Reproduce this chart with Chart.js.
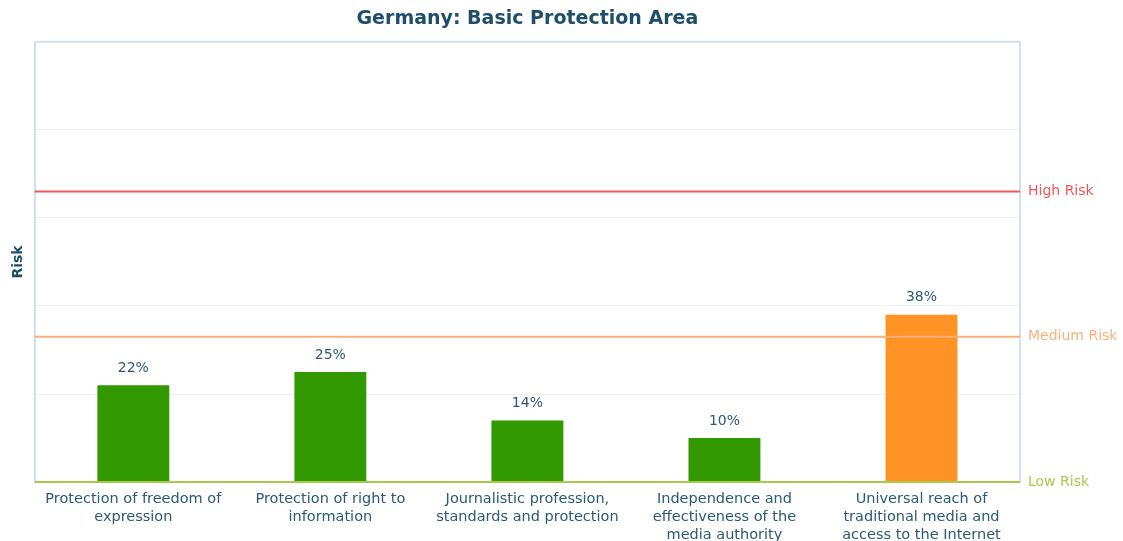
<!DOCTYPE html>
<html>
<head>
<meta charset="utf-8">
<script src="https://cdn.jsdelivr.net/npm/chart.js@4/dist/chart.umd.min.js"></script>
<style>
  html, body { margin: 0; padding: 0; background: #fff; }
  #wrap { width: 1123px; height: 541px; }
</style>
</head>
<body>
<div id="wrap"><canvas id="riskChart"></canvas></div>
<script>
// categories and values (percent)
const categories = [
  ['Protection of freedom of', 'expression'],
  ['Protection of right to', 'information'],
  ['Journalistic profession,', 'standards and protection'],
  ['Independence and', 'effectiveness of the', 'media authority'],
  ['Universal reach of', 'traditional media and', 'access to the Internet']
];
const riskValues = [22, 25, 14, 10, 38];
const barColors = ['#339900', '#339900', '#339900', '#339900', '#ff9326'];

// risk thresholds drawn on the y scale
const thresholdNames = ['High Risk', 'Medium Risk', 'Low Risk'];
const thresholdValues = [66, 33, 0];
const thresholdColors = ['#f2555c', '#fbb07c', '#a8c94a'];

const textColor = '#2b5a76';

const riskPlugin = {
  id: 'riskPlugin',
  beforeDatasetsDraw(chart) {
    const { ctx, chartArea } = chart;
    ctx.save();
    // frame around plot area
    ctx.strokeStyle = '#d3e0e8';
    ctx.lineWidth = 2;
    ctx.strokeRect(chartArea.left, chartArea.top, chartArea.right - chartArea.left, chartArea.bottom - chartArea.top);
    ctx.restore();
  },
  afterDatasetsDraw(chart) {
    const { ctx, chartArea, scales } = chart;
    ctx.save();
    thresholdValues.forEach((v, i) => {
      const y = scales.y.getPixelForValue(v);
      ctx.strokeStyle = thresholdColors[i];
      ctx.lineWidth = 2;
      ctx.beginPath();
      ctx.moveTo(chartArea.left, y);
      ctx.lineTo(chartArea.right, y);
      ctx.stroke();
      ctx.fillStyle = thresholdColors[i];
      ctx.font = '14px "DejaVu Sans"';
      ctx.textAlign = 'left';
      ctx.textBaseline = 'middle';
      ctx.fillText(thresholdNames[i], chartArea.right + 8, y);
    });
    // value labels over bars
    const meta = chart.getDatasetMeta(0);
    ctx.fillStyle = textColor;
    ctx.font = '14px "DejaVu Sans"';
    ctx.textAlign = 'center';
    ctx.textBaseline = 'middle';
    meta.data.forEach((bar, i) => {
      ctx.fillText(riskValues[i] + '%', bar.x, bar.y - 17);
    });
    ctx.restore();
  }
};

new Chart(document.getElementById('riskChart'), {
  type: 'bar',
  data: {
    labels: categories,
    datasets: [{
      data: riskValues,
      backgroundColor: barColors,
      categoryPercentage: 1,
      barPercentage: 0.365
    }]
  },
  options: {
    responsive: true,
    maintainAspectRatio: false,
    animation: false,
    layout: { padding: { left: 7, right: 103, top: 4, bottom: -11 } },
    plugins: {
      legend: { display: false },
      tooltip: { enabled: false },
      title: {
        display: true,
        text: 'Germany: Basic Protection Area',
        fullSize: false,
        color: '#1f4e6b',
        font: { family: 'DejaVu Sans', size: 19, weight: 'bold' },
        padding: { top: 4, bottom: 11 }
      }
    },
    scales: {
      x: {
        grid: { display: false, drawTicks: false },
        border: { display: true, color: '#a8c94a', width: 2 },
        ticks: {
          color: textColor,
          font: { family: 'DejaVu Sans', size: 14.5, lineHeight: 1.24 },
          padding: 8,
          maxRotation: 0,
          autoSkip: false
        }
      },
      y: {
        min: 0,
        max: 100,
        ticks: { display: false, stepSize: 20 },
        grid: { color: '#e9eff2', drawTicks: false, lineWidth: 1 },
        border: { display: true, color: '#d3e0e8', width: 2 },
        title: {
          display: true,
          text: 'Risk',
          color: '#1f4e6b',
          font: { family: 'DejaVu Sans', size: 14, weight: 'bold' },
          padding: { top: 3, bottom: 8 }
        }
      }
    }
  },
  plugins: [riskPlugin]
});
</script>
</body>
</html>
